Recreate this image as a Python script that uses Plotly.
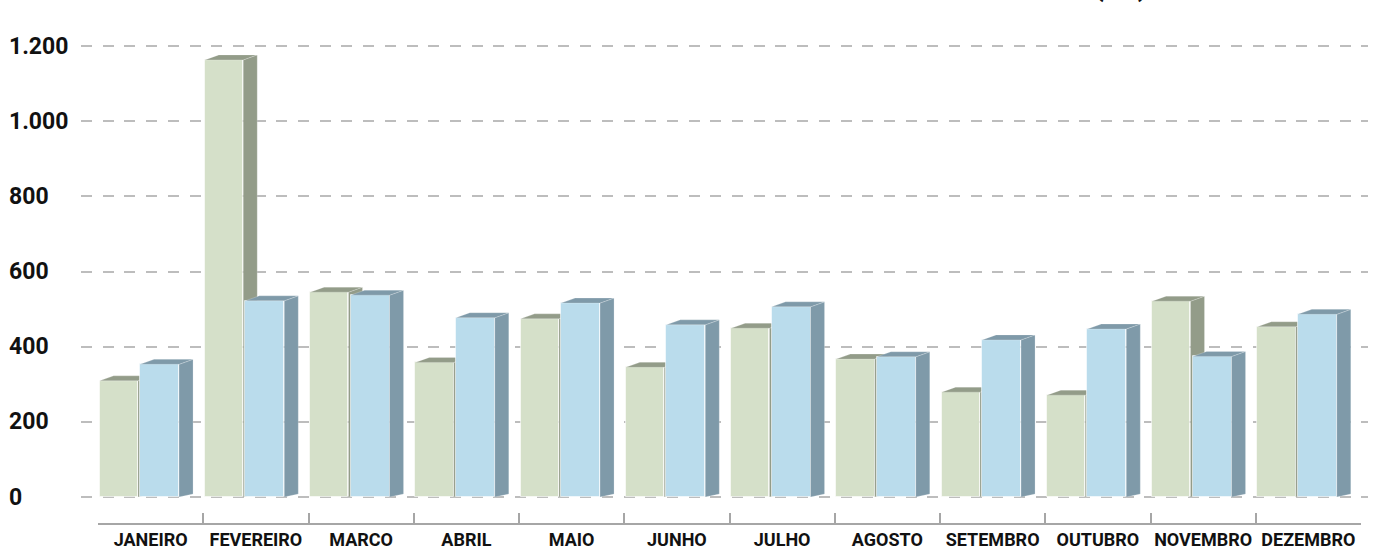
import plotly.graph_objects as go

# ---------------- data ----------------
months = ["JANEIRO", "FEVEREIRO", "MARCO", "ABRIL", "MAIO", "JUNHO",
          "JULHO", "AGOSTO", "SETEMBRO", "OUTUBRO", "NOVEMBRO", "DEZEMBRO"]
serie_verde = [309, 1163, 545, 358, 474, 345, 449, 367, 279, 271, 521, 453]
serie_azul = [353, 522, 537, 477, 516, 458, 506, 373, 418, 447, 374, 486]
ytick_vals = [0, 200, 400, 600, 800, 1000, 1200]
ytick_text = ["0", "200", "400", "600", "800", "1.000", "1.200"]
unidade = "(R$)"

# ---------------- geometry / style ----------------
W, H = 1378, 547
FONT = "Roboto"
idx = list(range(len(months)))

px_x = lambda p: p / W
px_y = lambda p: (H - p) / H

y_scale = (497 - 46) / 1200.0          # px per unit
y_range = [-(523 - 497) / y_scale, 1200 + (46 - 30) / y_scale]
cat_px = (1361 - 98) / len(months)      # px per category
x_range = [-0.5 - (98 - 81) / cat_px, len(months) - 0.5 + (1368 - 1361) / cat_px]

DX = 14 / cat_px            # depth offset in x units
DY_TOP = 5 / y_scale        # depth offset at top in y units
DY_BOT = 3 / y_scale        # depth offset at bottom

series = [
    dict(vals=serie_verde, offset=-0.485, width=0.365,
         front="#D5E0C9", dark="#939C89", xa="x", ya="y"),
    dict(vals=serie_azul, offset=-0.10, width=0.37,
         front="#BADCEC", dark="#7F9AA9", xa="x2", ya="y2"),
]

fig = go.Figure()

for s in series:
    fig.add_trace(go.Bar(
        x=idx, y=s["vals"], offset=s["offset"], width=s["width"],
        marker=dict(color=s["front"], line=dict(color="rgba(255,255,255,0.55)", width=1)),
        xaxis=s["xa"], yaxis=s["ya"], showlegend=False,
        customdata=months, hovertemplate="%{customdata}: %{y}<extra></extra>",
    ))
    sx, sy, tx, ty = [], [], [], []
    for i, v in zip(idx, s["vals"]):
        x0 = i + s["offset"]
        x1 = x0 + s["width"]
        sx += [x1, x1 + DX, x1 + DX, x1, x1, None]
        sy += [0, DY_BOT, v + DY_TOP, v, 0, None]
        tx += [x0, x0 + DX, x1 + DX, x1, x0, None]
        ty += [v, v + DY_TOP, v + DY_TOP, v, v, None]
    for px_, py_ in ((sx, sy), (tx, ty)):
        fig.add_trace(go.Scatter(
            x=px_, y=py_, mode="lines", fill="toself", fillcolor=s["dark"],
            line=dict(color="rgba(255,255,255,0.35)", width=0.6),
            xaxis=s["xa"], yaxis=s["ya"], hoverinfo="skip", showlegend=False,
        ))

fig.add_trace(go.Scatter(
    x=months, y=serie_verde, mode="markers", marker=dict(opacity=0),
    xaxis="x3", yaxis="y3", hoverinfo="skip", showlegend=False,
))

y_dom = [px_y(523), px_y(30)]

fig.update_layout(
    width=W, height=H,
    margin=dict(l=0, r=0, t=0, b=0, autoexpand=False),
    paper_bgcolor="white", plot_bgcolor="rgba(0,0,0,0)",
    showlegend=False,
    bargap=0,
    xaxis=dict(domain=[px_x(81), px_x(1368)], range=x_range, visible=False,
               anchor="y", automargin=False),
    yaxis=dict(domain=y_dom, range=y_range, anchor="x", automargin=False,
               tickvals=ytick_vals, showticklabels=False, ticks="",
               showgrid=True, gridcolor="#BDBDBD", gridwidth=1.5,
               griddash="11px,10.7px", zeroline=False, showline=False),
    xaxis2=dict(overlaying="x", matches="x", visible=False, anchor="y2",
                automargin=False),
    yaxis2=dict(overlaying="y", matches="y", visible=False, anchor="x2",
                automargin=False),
    xaxis3=dict(domain=[px_x(98), px_x(1361)], type="category",
                categoryarray=months, categoryorder="array",
                range=[-0.5, len(months) - 0.5], anchor="y3",
                automargin=False, tickangle=0,
                showline=True, linecolor="#A6A6A6", linewidth=1.5,
                ticks="inside", tickson="boundaries", ticklen=10,
                tickcolor="#A6A6A6", tickwidth=1.5, showgrid=False,
                tickfont=dict(family=FONT, size=18, color="#111111", weight=700)),
    yaxis3=dict(domain=y_dom, range=y_range, anchor="x3", visible=False,
                showgrid=False, automargin=False),
)

for v, t in zip(ytick_vals, ytick_text):
    fig.add_annotation(
        x=px_x(7), xref="paper", xanchor="left", y=v, yref="y",
        yanchor="middle", text=t, showarrow=False,
        font=dict(family=FONT, size=23, color="#111111", weight=700),
    )

fig.add_annotation(
    x=px_x(1150), xref="paper", xanchor="right", y=1, yref="paper",
    yanchor="bottom", yshift=-5, text=unidade, showarrow=False,
    font=dict(family=FONT, size=28, color="#111111", weight=700),
)

fig.write_html("out.html", config={"displayModeBar": False},
               post_script="document.body.style.margin='0';document.body.style.overflow='hidden';")
